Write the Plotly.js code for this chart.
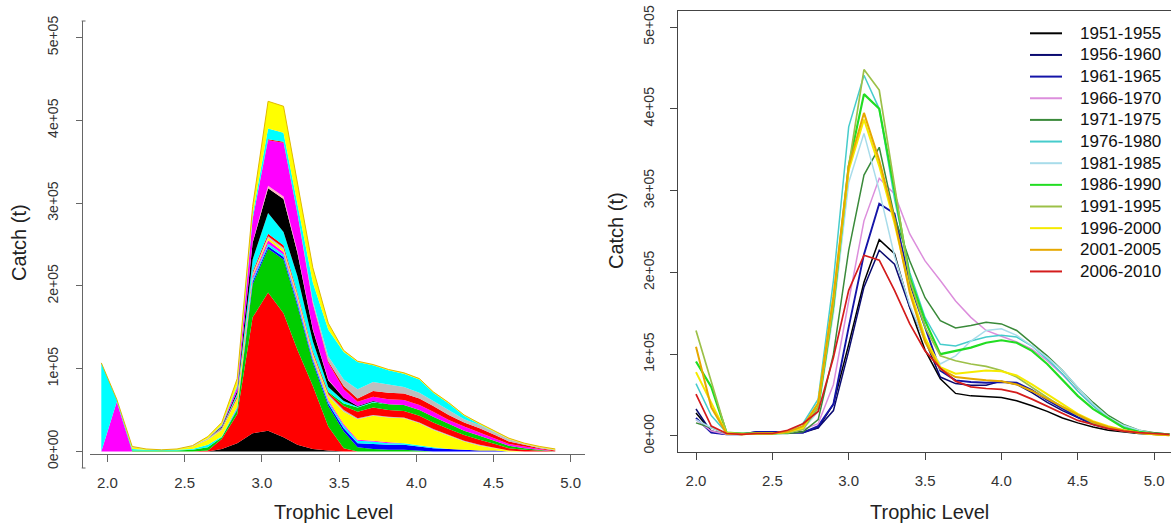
<!DOCTYPE html>
<html>
<head>
<meta charset="utf-8">
<script src="https://cdn.plot.ly/plotly-3.0.1.min.js"></script>
<style>html,body{margin:0;padding:0;background:#fff;}#chart{width:1171px;height:526px;}</style>
</head>
<body>
<div id="chart"></div>
<script>
// ---------- DATA ----------
// Left panel: stacked catch by group, plotted positions along trophic level
const leftTL = [1.96,2.06,2.16,2.25,2.35,2.45,2.55,2.65,2.74,2.84,2.94,3.04,3.14,3.23,3.33,3.43,3.53,3.62,3.72,3.82,3.92,4.02,4.11,4.21,4.31,4.41,4.51,4.60,4.70,4.80,4.90];
// layer values in thousand tonnes (bottom to top)
const leftMagentaL = [0,60,0,0,0,0,0,0,0,0,0,0,0,0,0,0,0,0,0,0,0,0,0,0,0,0,0,0,0,0,0];
const leftCyanL    = [107,3,0,0,0,0,0,0,0,0,0,0,0,0,0,0,0,0,0,0,0,0,0,0,0,0,0,0,0,0,0];
const leftBlack1   = [0,0,0,0,0,0,0,0,3,10,22,25,17,8,3,1,0,0,0,0,0,0,0,0,0,0,0,0,0,0,0];
const leftRed1     = [0,0,0,0,0,0,0,1,12,35,140,167,150,115,76,29,4,0,0,0,0,0,0,0,0,0,0,0,0,0,0];
const leftGreen1   = [0,0,1,1,1,1,2,4,2,5,40,53,65,53,28,25,20,5,3,2,2,1,0,0,0,0,0,0,0,0,0];
const leftBlue1    = [0,0,0,0,0,0,0,0,0,1,3,3,3,3,3,3,4,5,6,6,6,5,4,3,2,1,1,0,0,0,0];
const leftCyan1    = [0,0,2,1,1,1,1,3,1,2,3,3,3,3,2,2,3,3,3,2,2,1,1,0,0,0,0,0,0,0,0];
const leftMagenta1 = [0,0,0,0,0,0,0,0,0,1,3,4,3,3,2,2,2,1,1,1,0,0,0,0,0,0,0,0,0,0,0];
const leftYellow1  = [0,0,2,1,0,1,3,6,8,10,2,3,3,3,3,5,15,25,30,30,30,27,21,16,10,6,3,1,0,0,0];
const leftGray1    = [0,0,1,0,0,0,1,2,1,1,2,2,2,2,2,2,2,1,1,1,1,1,1,1,1,1,0,0,0,0,0];
const leftRed2     = [0,0,0,0,0,0,0,0,1,2,2,3,3,2,2,2,5,8,9,8,8,8,8,7,7,6,5,3,2,1,0];
const leftGreen2   = [0,0,0,0,0,0,0,0,0,0,0,0,0,0,0,1,3,5,6,7,7,7,7,6,5,5,4,3,2,1,0];
const leftCyan2    = [0,0,0,0,0,0,0,0,1,3,15,25,16,20,12,6,3,1,1,0,0,0,0,0,0,0,0,0,0,0,0];
const leftBlack2   = [0,0,0,0,0,0,0,0,1,3,20,30,40,28,14,8,4,1,1,0,0,0,0,0,0,0,0,0,0,0,0];
const leftPink     = [0,0,0,0,0,0,0,0,0,0,1,3,3,2,1,1,0,0,0,0,0,0,0,0,0,0,0,0,0,0,0];
const leftMagenta2 = [0,0,0,0,0,0,0,0,1,5,28,55,65,45,30,20,10,5,5,6,6,6,6,5,5,4,3,2,2,1,0];
const leftRed3     = [0,0,0,0,0,0,0,0,0,0,0,1,1,1,1,2,4,4,7,8,8,8,7,6,5,5,4,3,2,1,1];
const leftGray2    = [0,0,0,0,0,0,0,0,0,0,0,0,0,0,3,6,8,11,11,10,8,7,6,6,4,4,3,3,1,1,1];
const leftCyan3    = [0,0,0,0,0,0,0,0,1,2,5,13,11,10,22,32,33,33,20,17,16,16,10,8,4,1,0,0,0,0,0];
const leftYellow2  = [0,0,0,0,0,0,0,2,3,8,10,33,32,25,18,8,2,1,1,1,1,1,1,1,1,1,1,1,1,1,1];

// Right panel: catch by trophic level, five-year periods (thousand tonnes)
const rightTL = [2.0,2.1,2.2,2.3,2.4,2.5,2.6,2.7,2.8,2.9,3.0,3.1,3.2,3.3,3.4,3.5,3.6,3.7,3.8,3.9,4.0,4.1,4.2,4.3,4.4,4.5,4.6,4.7,4.8,4.9,5.0,5.1];
const periods = ["1951-1955","1956-1960","1961-1965","1966-1970","1971-1975","1976-1980","1981-1985","1986-1990","1991-1995","1996-2000","2001-2005","2006-2010"];
const p1951 = [28,6,2,2,3,3,4,5,10,39,112,188,240,223,157,105,70,52,49,48,47,43,37,30,22,16,11,7,5,3,2,1];
const p1956 = [33,5,2,2,5,5,4,4,10,31,104,182,227,210,157,117,72,64,62,62,67,63,53,41,31,22,14,9,6,4,3,2];
const p1961 = [22,4,2,2,5,5,4,4,12,39,133,222,284,272,186,133,80,68,66,65,66,65,56,44,33,23,15,10,6,4,3,2];
const p1966 = [20,6,2,2,3,3,4,8,15,63,165,263,315,296,247,214,190,165,145,129,122,115,106,92,75,55,37,22,12,6,3,2];
const p1971 = [16,10,3,2,3,3,3,5,20,100,227,319,353,268,214,169,141,132,135,139,137,129,114,98,80,59,41,25,14,7,4,2];
const p1976 = [64,25,4,3,3,3,5,15,45,190,378,441,400,290,200,145,112,110,116,121,123,121,110,94,76,55,37,22,12,6,3,2];
const p1981 = [20,10,3,2,3,3,4,8,30,150,310,370,300,220,160,115,88,98,116,129,131,123,110,96,80,59,39,23,13,7,3,2];
const p1986 = [91,60,4,3,3,3,4,10,35,160,330,418,400,300,194,141,100,104,108,114,117,114,104,88,69,49,33,21,10,5,3,2];
const p1991 = [129,67,4,3,3,3,4,8,35,160,330,448,423,304,190,133,98,92,88,85,80,72,59,47,35,25,16,10,6,4,2,1];
const p1996 = [78,40,3,2,3,3,5,10,40,170,325,387,330,260,180,120,84,76,78,80,79,74,63,51,39,27,18,12,7,4,2,1];
const p2001 = [109,35,3,2,3,3,5,12,40,170,330,395,337,265,175,115,82,72,70,68,67,63,55,45,35,26,17,11,7,4,2,1];
const p2006 = [51,12,3,2,3,3,7,15,30,96,178,221,215,178,137,104,83,67,60,58,57,53,45,36,27,19,14,9,6,4,3,2];

const xTickVals = [2.0,2.5,3.0,3.5,4.0,4.5,5.0];
const xTickText = ["2.0","2.5","3.0","3.5","4.0","4.5","5.0"];
const yTickVals = [0,100000,200000,300000,400000,500000];
const yTickText = ["0e+00","1e+05","2e+05","3e+05","4e+05","5e+05"];
const xTitle = "Trophic Level";
const yTitle = "Catch (t)";

// ---------- BUILD ----------
const KT = 1000; // thousand tonnes -> tonnes
const W = 1171, H = 526;
const px = v => v / W;
const py = v => 1 - v / H;

const leftLayers = [
  [leftMagentaL, '#ff00ff'], [leftCyanL, '#00ffff'],
  [leftBlack1, '#000000'], [leftRed1, '#ff0000'], [leftGreen1, '#00cd00'], [leftBlue1, '#0000ff'],
  [leftCyan1, '#00ffff'], [leftMagenta1, '#ff00ff'], [leftYellow1, '#ffff00'], [leftGray1, '#bebebe'],
  [leftRed2, '#ff0000'], [leftGreen2, '#00cd00'], [leftCyan2, '#00ffff'], [leftBlack2, '#000000'],
  [leftPink, '#ffb6c1'], [leftMagenta2, '#ff00ff'], [leftRed3, '#ff0000'], [leftGray2, '#bebebe'],
  [leftCyan3, '#00ffff'], [leftYellow2, '#ffff00']
];

const traces = [];
leftLayers.forEach(([vals, col], i) => {
  const top = (i === leftLayers.length - 1);
  traces.push({
    type: 'scatter', mode: 'lines', x: leftTL, y: vals.map(v => v * KT),
    stackgroup: 'left', fillcolor: col,
    line: {width: top ? 1 : 0, color: top ? '#e0b800' : col},
    xaxis: 'x', yaxis: 'y', showlegend: false, hoverinfo: 'skip'
  });
});

const rightSeries = [p1951,p1956,p1961,p1966,p1971,p1976,p1981,p1986,p1991,p1996,p2001,p2006];
const rightColors = ['#000000','#0a0a70','#1414a8','#dc8edc','#3a8a3a','#46cccc','#a8dcea','#22dd22','#9cc048','#f5ea00','#e6a800','#d41c1c'];
const rightWidths = [1.5,1.5,1.9,1.5,1.5,1.5,1.5,2.2,1.7,2.0,2.0,1.7];
rightSeries.forEach((vals, i) => {
  traces.push({
    type: 'scatter', mode: 'lines', x: rightTL, y: vals.map(v => v * KT),
    line: {color: rightColors[i], width: rightWidths[i]},
    name: periods[i], xaxis: 'x2', yaxis: 'y2', showlegend: false, hoverinfo: 'skip'
  });
});

const tickFont = {family: 'Liberation Sans, Arial, sans-serif', size: 15, color: '#333'};
const yTickFont = {family: 'Liberation Sans, Arial, sans-serif', size: 14, color: '#333'};
const titleFont = {family: 'Liberation Sans, Arial, sans-serif', size: 20, color: '#222'};

const shapes = [];
const annotations = [];

// left y-axis hooks
shapes.push({type:'line', xref:'paper', yref:'paper', x0:px(81.7), x1:px(85.5), y0:py(21), y1:py(21), line:{color:'#666', width:1}});
shapes.push({type:'line', xref:'paper', yref:'paper', x0:px(81.7), x1:px(85.5), y0:py(468), y1:py(468), line:{color:'#666', width:1}});

// manual legend
periods.forEach((p, i) => {
  const yc = 33.3 + 21.65 * i;
  shapes.push({type:'line', xref:'paper', yref:'paper', x0:px(1030), x1:px(1062), y0:py(yc), y1:py(yc),
               line:{color: rightColors[i], width: 2}});
  annotations.push({xref:'paper', yref:'paper', x:px(1078), y:py(yc), xanchor:'left', yanchor:'middle',
                    text:p, showarrow:false, font:{family:'Liberation Sans, Arial, sans-serif', size:17, color:'#111'}});
});

// axis titles
annotations.push({xref:'paper', yref:'paper', x:px(19), y:py(243), text:yTitle, textangle:-90, showarrow:false, font:titleFont, xanchor:'center', yanchor:'middle'});
annotations.push({xref:'paper', yref:'paper', x:px(616), y:py(231), text:yTitle, textangle:-90, showarrow:false, font:titleFont, xanchor:'center', yanchor:'middle'});
annotations.push({xref:'paper', yref:'paper', x:px(333), y:py(512), text:xTitle, showarrow:false, font:titleFont, xanchor:'center', yanchor:'middle'});
annotations.push({xref:'paper', yref:'paper', x:px(929), y:py(512), text:xTitle, showarrow:false, font:titleFont, xanchor:'center', yanchor:'middle'});

const layout = {
  width: W, height: H,
  margin: {l:0, r:0, t:0, b:0, pad:0},
  paper_bgcolor: '#fff', plot_bgcolor: '#fff',
  showlegend: false,
  xaxis: {
    domain: [px(90), px(585)], range: [2 + (90-107.5)/154.4, 2 + (585-107.5)/154.4],
    anchor: 'free', position: py(454),
    showgrid: false, zeroline: false, showline: true, linecolor: '#666', linewidth: 1,
    ticks: 'outside', ticklen: 7, tickcolor: '#666', tickvals: xTickVals, ticktext: xTickText,
    tickfont: tickFont, ticklabelstandoff: 8
  },
  yaxis: {
    domain: [py(468), py(21)], range: [-20000, 520000],
    anchor: 'free', position: px(81.7),
    showgrid: false, zeroline: false, showline: true, linecolor: '#666', linewidth: 1,
    ticks: 'outside', ticklen: 6, tickcolor: '#666', tickvals: yTickVals, ticktext: yTickText,
    tickangle: -90, tickfont: yTickFont, ticklabelstandoff: 12
  },
  xaxis2: {
    domain: [px(677.7), 1], range: [2 + (677.7-696)/152.7, 2 + (1171-696)/152.7],
    anchor: 'y2',
    showgrid: false, zeroline: false, showline: true, mirror: true, linecolor: '#444', linewidth: 1,
    ticks: 'outside', ticklen: 7, tickcolor: '#444', tickvals: xTickVals, ticktext: xTickText,
    tickfont: tickFont, ticklabelstandoff: 8
  },
  yaxis2: {
    domain: [py(452.3), py(10.7)], range: [-20000, 520000],
    anchor: 'x2',
    showgrid: false, zeroline: false, showline: true, linecolor: '#444', linewidth: 1,
    ticks: 'outside', ticklen: 7, tickcolor: '#444', tickvals: yTickVals, ticktext: yTickText,
    tickangle: -90, tickfont: yTickFont, ticklabelstandoff: 10
  },
  shapes: shapes,
  annotations: annotations
};

Plotly.newPlot('chart', traces, layout, {displayModeBar: false, staticPlot: true});
</script>
</body>
</html>
